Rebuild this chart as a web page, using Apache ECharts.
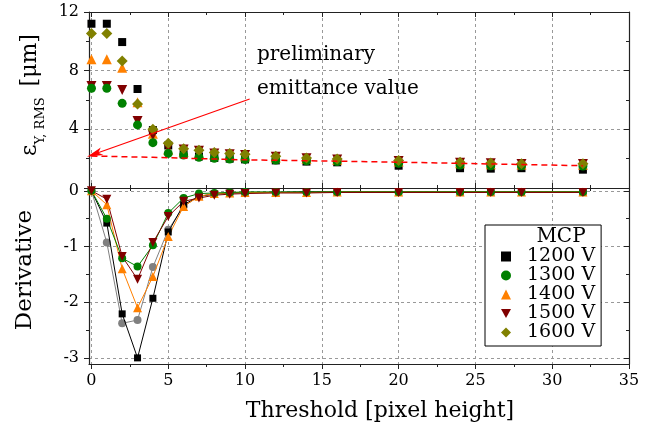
<!DOCTYPE html>
<html><head><meta charset="utf-8">
<script src="https://cdn.jsdelivr.net/npm/echarts@6/dist/echarts.min.js"></script>
<style>html,body{margin:0;padding:0;background:#fff}#c{width:660px;height:438px}</style>
</head><body><div id="c"></div>
<script>
// ---- data ----
const thresholds = [0,1,2,3,4,5,6,7,8,9,10,12,14,16,20,24,26,28,32];
const emit1200 = [11.2,11.2,9.95,6.75,3.95,2.9,2.3,2.15,2.05,2.0,1.95,1.88,1.8,1.75,1.52,1.35,1.32,1.35,1.25];
const emit1300 = [6.8,6.8,5.77,4.3,3.09,2.36,2.25,2.1,2.02,1.98,1.95,1.91,1.85,1.8,1.68,1.57,1.52,1.52,1.5];
const emit1400 = [8.77,8.77,8.2,5.85,3.7,2.6,2.45,2.35,2.25,2.2,2.15,2.08,2.0,1.93,1.8,1.68,1.62,1.6,1.58];
const emit1500 = [6.95,6.95,6.68,4.57,3.6,2.75,2.63,2.54,2.36,2.3,2.25,2.13,2.02,1.95,1.84,1.73,1.68,1.64,1.64];
const emit1600 = [10.54,10.54,8.66,5.73,4.0,3.05,2.68,2.58,2.42,2.35,2.3,2.17,2.05,1.98,1.87,1.76,1.7,1.66,1.66];
const fitX = [0,4,10,16,20,24,28,32];
const fitY = [2.18,2.09,1.92,1.83,1.76,1.68,1.6,1.52];
const deriv1200 = [0,-0.58,-2.21,-3.0,-1.93,-0.74,-0.25,-0.1,-0.06,-0.04,-0.03,-0.03,-0.02,-0.02,-0.02,-0.02,-0.02,-0.02,-0.02];
const deriv1300 = [0,-0.5,-1.21,-1.36,-0.98,-0.4,-0.13,-0.05,-0.04,-0.03,-0.02,-0.02,-0.02,-0.02,-0.02,-0.02,-0.02,-0.02,-0.02];
const deriv1400 = [0,-0.25,-1.4,-2.1,-1.54,-0.82,-0.28,-0.1,-0.05,-0.04,-0.03,-0.03,-0.03,-0.02,-0.02,-0.02,-0.02,-0.02,-0.02];
const deriv1500 = [0,-0.15,-1.18,-1.59,-0.93,-0.46,-0.19,-0.13,-0.08,-0.06,-0.05,-0.04,-0.04,-0.03,-0.03,-0.03,-0.03,-0.03,-0.03];
const derivGray = [0,-0.93,-2.38,-2.32,-1.37,-0.7,-0.28,-0.1,-0.05,-0.04,-0.03,-0.03,-0.02,-0.02,-0.02,-0.02,-0.02,-0.02,-0.02];
const seriesNames = ['1200 V','1300 V','1400 V','1500 V','1600 V'];
const xTicks = [0,5,10,15,20,25,30,35];
const yTopLabels = [4,8,12];
const yBottomTicks = [-3,-2,-1,0];
const arrowFrom = [10.3,6.07];
const arrowTo = [0.2,2.32];

// ---- styling ----
const FONT = 'DejaVu Serif';
const TRI_DOWN = 'path://M0,0 L10,0 L5,9 Z';
const ARROW_HEAD = 'path://M4,0 L8,16 L4,12 L0,16 Z';
const colors = {'1200 V':'#000000','1300 V':'#008000','1400 V':'#ff8000','1500 V':'#800000','1600 V':'#808000'};
const symbols = {'1200 V':'rect','1300 V':'circle','1400 V':'triangle','1500 V':TRI_DOWN,'1600 V':'diamond'};
const sizes = {'1200 V':8,'1300 V':9,'1400 V':10,'1500 V':10,'1600 V':11};
const pair = (xs, ys) => xs.map((x,i)=>[x, ys[i]]);
const frame = {show:true, onZero:false, lineStyle:{color:'#222', width:1.2}};
const dash = {show:true, lineStyle:{color:'#999', type:[3,3], width:1}};
const tickStyle = {color:'#222', width:1};
const labelStyle = {fontFamily:FONT, fontSize:16, color:'#000'};

function xAxisDef(grid, pos, labels, split) {
  return {
    type:'value', gridIndex:grid, position:pos, min:-0.16, max:35, splitNumber:7,
    axisLine:frame,
    axisTick:{show:true, inside:!labels, length:5, customValues:xTicks, lineStyle:tickStyle},
    minorTick:{show:true, splitNumber:2, length:3, lineStyle:tickStyle},
    axisLabel: labels ? Object.assign({show:true, margin:9, customValues:xTicks}, labelStyle) : {show:false},
    splitLine: split ? dash : {show:false}
  };
}

const xAxes = [
  xAxisDef(0,'bottom',false,true),
  xAxisDef(0,'top',false,false),
  Object.assign(xAxisDef(1,'bottom',true,true), {
    name:'Threshold [pixel height]', nameLocation:'middle', nameGap:36,
    nameTextStyle:{fontFamily:FONT, fontSize:22, color:'#000', padding:[0,0,0,42]}
  }),
  xAxisDef(1,'top',false,false)
];

const yAxes = [
  {type:'value', gridIndex:0, position:'left', min:0, max:12, interval:4,
   axisLine:frame, axisTick:{show:true, inside:false, length:5, lineStyle:tickStyle},
   minorTick:{show:true, splitNumber:2, length:3, lineStyle:tickStyle},
   axisLabel:Object.assign({margin:10, customValues:yTopLabels}, labelStyle),
   splitLine:dash,
   name:'{e|ε}{s|Y, RMS} [μm]', nameLocation:'middle', nameGap:48,
   nameTextStyle:{fontFamily:FONT, fontSize:22, color:'#000', padding:[0,0,0,10],
     rich:{e:{fontFamily:FONT, fontSize:22, color:'#000'},
           s:{fontFamily:FONT, fontSize:13, color:'#000', verticalAlign:'bottom', padding:[0,4,-6,0]}}}
  },
  {type:'value', gridIndex:0, position:'right', min:0, max:12, interval:4,
   axisLine:frame, axisTick:{show:true, inside:true, length:5, lineStyle:tickStyle},
   minorTick:{show:true, splitNumber:2, length:3, lineStyle:tickStyle},
   axisLabel:{show:false}, splitLine:{show:false}},
  {type:'value', gridIndex:1, position:'left', min:-3.11, max:0.05, splitNumber:3,
   axisLine:frame, axisTick:{show:true, inside:false, length:5, customValues:yBottomTicks, lineStyle:tickStyle},
   minorTick:{show:true, splitNumber:2, length:3, lineStyle:tickStyle},
   axisLabel:Object.assign({margin:10, customValues:yBottomTicks}, labelStyle),
   splitLine:dash,
   name:'Derivative', nameLocation:'middle', nameGap:52,
   nameTextStyle:{fontFamily:FONT, fontSize:23, color:'#000', padding:[0,0,0,12]}},
  {type:'value', gridIndex:1, position:'right', min:-3.11, max:0.05, splitNumber:3,
   axisLine:frame, axisTick:{show:true, inside:true, length:5, customValues:yBottomTicks, lineStyle:tickStyle},
   minorTick:{show:true, splitNumber:2, length:3, lineStyle:tickStyle},
   axisLabel:{show:false}, splitLine:{show:false}}
];

const emitData = {'1200 V':emit1200,'1300 V':emit1300,'1400 V':emit1400,'1500 V':emit1500,'1600 V':emit1600};
const derivData = {'1200 V':deriv1200,'1300 V':deriv1300,'1400 V':deriv1400,'1500 V':deriv1500};

const series = [];
['1200 V','1400 V','1500 V','1300 V','1600 V'].forEach(n => {
  series.push({type:'scatter', name:n, xAxisIndex:0, yAxisIndex:0,
    data:pair(thresholds, emitData[n]), symbol:symbols[n], symbolSize:sizes[n],
    itemStyle:{color:colors[n], opacity:1}, clip:false, z:3});
});
series.push({type:'line', name:'fit', xAxisIndex:0, yAxisIndex:0, data:pair(fitX, fitY),
  symbol:'none', lineStyle:{color:'#ff0000', width:1.5, type:[6,4]}, z:4, silent:true,
  markLine:{silent:true, symbol:['none','arrow'], symbolSize:13, label:{show:false},
    lineStyle:{color:'#ff0000', width:1.2, type:'solid'},
    data:[[{coord:arrowFrom, symbol:'none'},{coord:arrowTo, symbol:ARROW_HEAD, symbolSize:[8,16]}]]}});

series.push({type:'line', name:'gray', xAxisIndex:2, yAxisIndex:2, data:pair(thresholds, derivGray),
  symbol:'circle', symbolSize:8, itemStyle:{color:'#808080'}, lineStyle:{color:'#808080', width:1}, clip:false, z:2});
['1200 V','1400 V','1300 V','1500 V'].forEach(n => {
  series.push({type:'line', name:n, xAxisIndex:2, yAxisIndex:2, data:pair(thresholds, derivData[n]),
    symbol:symbols[n], symbolSize:sizes[n]-1, itemStyle:{color:colors[n]},
    lineStyle:{color:colors[n], width:1}, clip:false, z:3});
});

const chart = echarts.init(document.getElementById('c'), null, {renderer:'canvas'});
chart.setOption({
  animation:false,
  backgroundColor:'#fff',
  grid:[{left:89, top:12, width:540, height:176}, {left:89, top:188, width:540, height:176}],
  xAxis:xAxes, yAxis:yAxes, series:series,
  legend:{
    data:seriesNames.map(n => ({name:n, icon:symbols[n]})),
    orient:'vertical', left:485, top:225, padding:[22,6,4,16],
    itemWidth:10, itemHeight:10, itemGap:0, selectedMode:false,
    textStyle:{fontFamily:FONT, fontSize:19, color:'#000', lineHeight:18.5, padding:[0,0,0,11]},
    backgroundColor:'#fff', borderColor:'#000', borderWidth:1, borderRadius:0, z:10
  },
  graphic:[
    {type:'text', x:561, y:237, z:100, style:{text:'MCP', fontFamily:FONT, fontSize:20, fill:'#000', align:'center', verticalAlign:'middle', textAlign:'center', textVerticalAlign:'middle'}},
    {type:'text', x:257, y:55, z:100, style:{text:'preliminary', fontFamily:FONT, fontSize:20, fill:'#000', align:'left', verticalAlign:'middle', textAlign:'left', textVerticalAlign:'middle'}},
    {type:'text', x:257, y:89, z:100, style:{text:'emittance value', fontFamily:FONT, fontSize:20, fill:'#000', align:'left', verticalAlign:'middle', textAlign:'left', textVerticalAlign:'middle'}}
  ]
});
</script></body></html>
